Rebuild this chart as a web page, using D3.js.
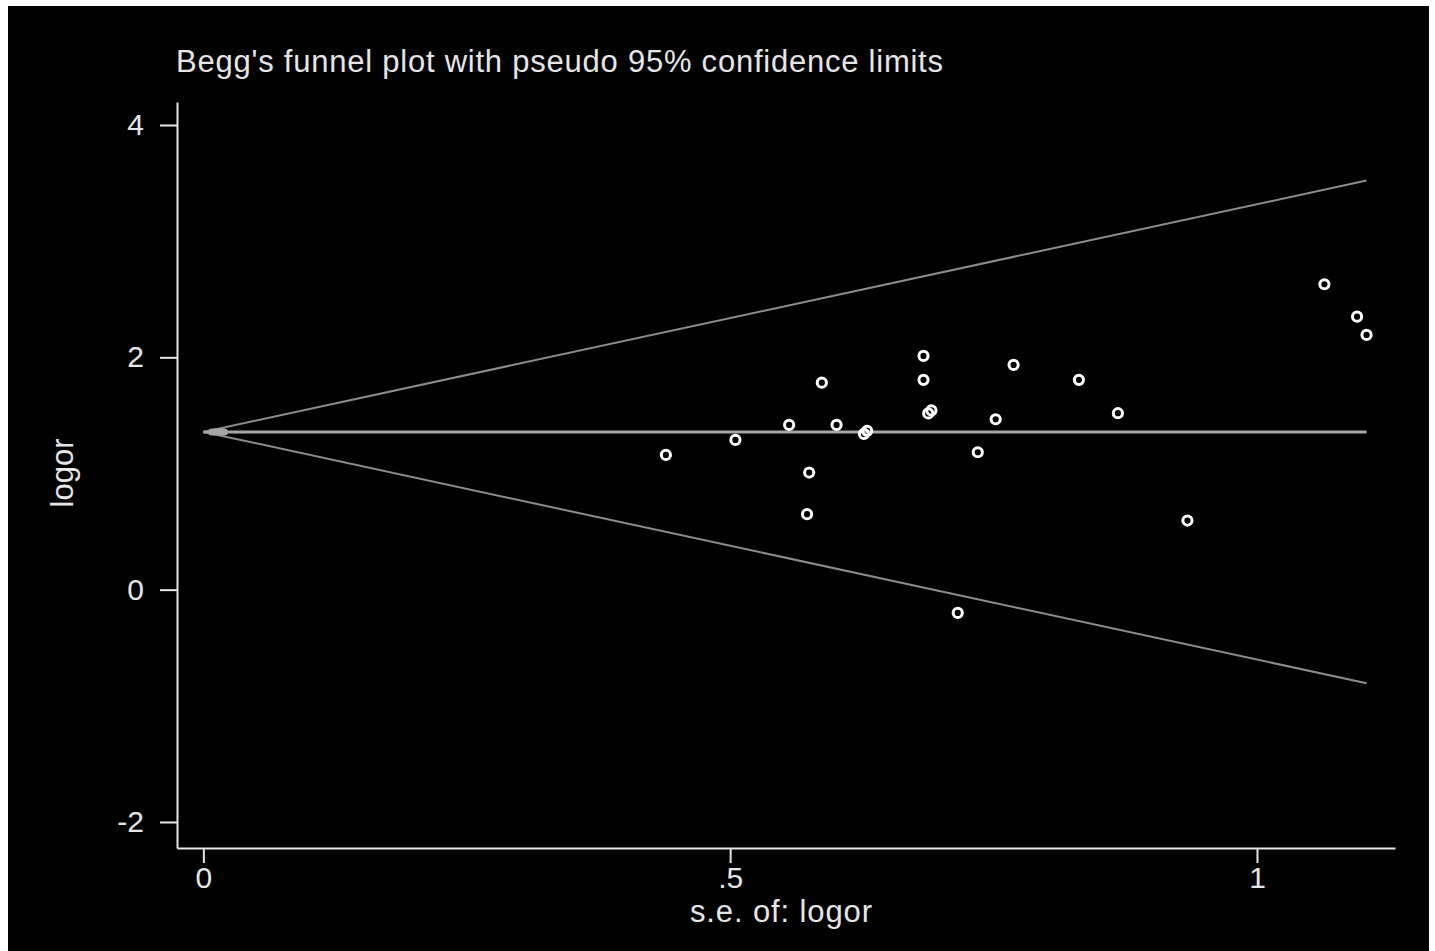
<!DOCTYPE html>
<html>
<head>
<meta charset="utf-8">
<script src="https://cdn.jsdelivr.net/npm/d3@7"></script>
<style>
  html, body { margin: 0; padding: 0; background: #fff; }
  svg text { font-family: "Liberation Sans", Arial, sans-serif; fill: #e6e6e6; }
  .axis path, .axis line { stroke: #e6e6e6; stroke-width: 2; }
</style>
</head>
<body>
<div id="chart"></div>
<script>
// Study estimates: standard error and log odds ratio
const seValues = [0.439, 0.505, 0.556, 0.575, 0.573, 0.587, 0.601, 0.627, 0.630,
  0.6835, 0.6835, 0.688, 0.691, 0.716, 0.735, 0.752, 0.769, 0.831, 0.868, 0.934,
  1.064, 1.095, 1.104];
const logorValues = [1.160, 1.289, 1.418, 1.008, 0.650, 1.782, 1.418, 1.341, 1.367,
  2.012, 1.806, 1.517, 1.543, -0.200, 1.183, 1.467, 1.935, 1.806, 1.519, 0.595,
  2.629, 2.350, 2.193];
const pooledLogor = 1.358;
const xTicks = [0, 0.5, 1];
const xTickLabels = ['0', '.5', '1'];
const yTicks = [-2, 0, 2, 4];
const yTickLabels = ['-2', '0', '2', '4'];

const title = "Begg's funnel plot with pseudo 95% confidence limits";
const xTitle = 's.e. of: logor';
const yTitle = 'logor';

const W = 1435, H = 951;
const svg = d3.select('#chart').append('svg')
    .attr('width', W)
    .attr('height', H);

// black panel inside the white frame
svg.append('rect')
    .attr('x', 8).attr('y', 6)
    .attr('width', 1421).attr('height', H - 6)
    .attr('fill', '#000');

const x = d3.scaleLinear().domain([-0.025, 1.131]).range([177, 1395]);
const y = d3.scaleLinear().domain([-2.224, 4.198]).range([848, 102]);

const points = seValues.map((s, i) => ({ se: s, logor: logorValues[i] }));
const maxSe = d3.max(seValues);

// funnel: pseudo 95% limits and pooled estimate
const limits = [
  [[0, pooledLogor], [maxSe, pooledLogor + 1.96 * maxSe]],
  [[0, pooledLogor], [maxSe, pooledLogor - 1.96 * maxSe]]
];
const line = d3.line().x(d => x(d[0])).y(d => y(d[1]));

svg.selectAll('.limit')
  .data(limits)
  .join('path')
    .attr('class', 'limit')
    .attr('d', line)
    .attr('fill', 'none')
    .attr('stroke', '#8c8c8c')
    .attr('stroke-width', 2);

svg.append('path')
    .attr('d', line([[0, pooledLogor], [maxSe, pooledLogor]]))
    .attr('stroke', '#a6a6a6')
    .attr('stroke-width', 3)
    .attr('fill', 'none');

// small pooled marker near the origin
svg.append('path')
    .attr('d', line([[0.008, pooledLogor], [0.02, pooledLogor]]))
    .attr('stroke', '#a6a6a6')
    .attr('stroke-width', 7)
    .attr('stroke-linecap', 'round');

// study points
svg.selectAll('.pt')
  .data(points)
  .join('circle')
    .attr('class', 'pt')
    .attr('cx', d => x(d.se))
    .attr('cy', d => y(d.logor))
    .attr('r', 4.6)
    .attr('fill', 'none')
    .attr('stroke', '#fff')
    .attr('stroke-width', 3);

// axes
const yAxis = d3.axisLeft(y)
    .tickValues(yTicks)
    .tickFormat((d, i) => yTickLabels[i])
    .tickSize(17)
    .tickSizeOuter(0)
    .tickPadding(16);
svg.append('g')
    .attr('class', 'axis')
    .attr('transform', `translate(${x.range()[0]},0)`)
    .call(yAxis);

const xAxis = d3.axisBottom(x)
    .tickValues(xTicks)
    .tickFormat((d, i) => xTickLabels[i])
    .tickSize(15)
    .tickSizeOuter(0)
    .tickPadding(4);
svg.append('g')
    .attr('class', 'axis')
    .attr('transform', `translate(0,${y.range()[0]})`)
    .call(xAxis);

svg.selectAll('.axis text')
    .attr('font-size', 30)
    .style('fill', '#e6e6e6');

// titles
svg.append('text')
    .attr('x', 176)
    .attr('y', 72)
    .attr('font-size', 31)
    .attr('textLength', 767)
    .attr('lengthAdjust', 'spacing')
    .text(title);

svg.append('text')
    .attr('x', 690)
    .attr('y', 922)
    .attr('font-size', 31)
    .attr('textLength', 182)
    .attr('lengthAdjust', 'spacing')
    .text(xTitle);

svg.append('text')
    .attr('transform', `translate(73, 473) rotate(-90)`)
    .attr('text-anchor', 'middle')
    .attr('font-size', 31)
    .text(yTitle);
</script>
</body>
</html>
